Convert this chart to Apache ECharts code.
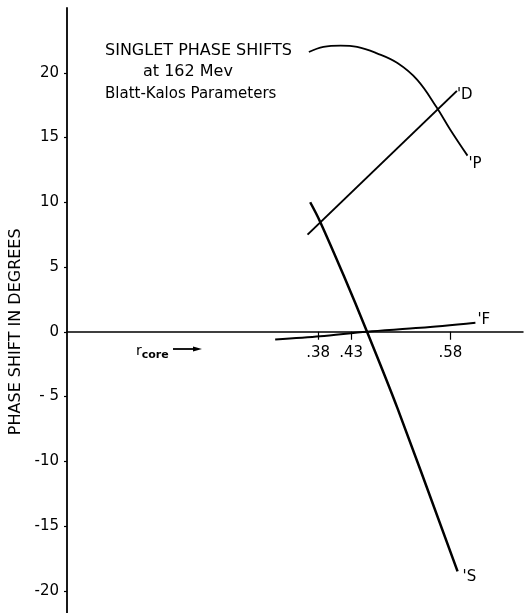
<!DOCTYPE html>
<html>
<head>
<meta charset="utf-8">
<script src="https://cdn.jsdelivr.net/npm/echarts@6/dist/echarts.min.js"></script>
<style>html,body{margin:0;padding:0;background:#fff;}#c{width:524px;height:613px;}</style>
</head>
<body>
<div id="c"></div>
<script>
// Data
var xD = [0.364, 0.590];
var yD = [7.5, 18.6];
var xP = [0.366, 0.388, 0.414, 0.439, 0.469, 0.500, 0.530, 0.559, 0.580, 0.606];
var yP = [21.6, 22.0, 22.1, 22.0, 21.5, 20.75, 19.45, 17.35, 15.6, 13.6];
var xS = [0.368, 0.383, 0.419, 0.454, 0.500, 0.591];
var yS = [10.0, 8.5, 4.3, 0.0, -5.9, -18.5];
var xF = [0.315, 0.383, 0.454, 0.535, 0.618];
var yF = [-0.6, -0.35, 0.0, 0.3, 0.7];
var xTicks = [0.38, 0.43, 0.58];
var yTicks = [-20, -15, -10, -5, 0, 5, 10, 15, 20];
var seriesNames = ["'D", "'P", "'S", "'F"];

function pairs(xs, ys) { return xs.map(function (x, i) { return [x, ys[i]]; }); }
var FONT = 'DejaVu Sans';
var GRID_TOP = 8, GRID_H = 647.5, Y_MIN = -25, Y_MAX = 25;
// pixel distance from grid bottom up to the zero line (layout only)
var ZERO_OFFSET = GRID_H * (0 - Y_MIN) / (Y_MAX - Y_MIN);
var chart = echarts.init(document.getElementById('c'));
function lineSeries(name, data, width, smooth, offset) {
  return {
    name: name, type: 'line', data: data, smooth: smooth,
    showSymbol: false, symbol: 'none', silent: true,
    lineStyle: { color: '#000', width: width },
    endLabel: { show: true, formatter: name, color: '#000', fontFamily: FONT, fontSize: 15, distance: 2, offset: offset },
    z: 3
  };
}
chart.setOption({
  backgroundColor: '#fff',
  animation: false,
  grid: { left: 67, top: GRID_TOP, width: 456, height: GRID_H, containLabel: false, outerBoundsMode: 'none' },
  xAxis: {
    type: 'value', min: 0, max: 0.69, position: 'bottom', offset: -ZERO_OFFSET,
    axisLine: { onZero: false, lineStyle: { color: '#000', width: 1.5 } },
    splitLine: { show: false },
    axisTick: { show: true, customValues: xTicks, length: 8, lineStyle: { color: '#000', width: 1.2 } },
    axisLabel: { customValues: xTicks, margin: 14, color: '#000', fontFamily: FONT, fontSize: 15,
      formatter: function (v) { return '.' + Math.round(v * 100); } }
  },
  yAxis: {
    type: 'value', min: Y_MIN, max: Y_MAX,
    name: 'PHASE SHIFT IN DEGREES', nameLocation: 'middle', nameGap: 43,
    nameTextStyle: { color: '#000', fontFamily: FONT, fontSize: 16 },
    axisLine: { show: true, lineStyle: { color: '#000', width: 1.8 } },
    splitLine: { show: false },
    axisTick: { show: true, customValues: yTicks, length: 3, lineStyle: { color: '#000', width: 1.2 } },
    axisLabel: { customValues: yTicks, margin: 8, color: '#000', fontFamily: FONT, fontSize: 15,
      formatter: function (v) { return v === -5 ? '- 5' : String(v); } }
  },
  graphic: [
    { type: 'text', left: 105, top: 43, style: { text: 'SINGLET PHASE SHIFTS', font: '16px "DejaVu Sans"', fill: '#000' } },
    { type: 'text', left: 143, top: 64, style: { text: 'at 162 Mev', font: '16px "DejaVu Sans"', fill: '#000' } },
    { type: 'text', left: 105, top: 87, style: { text: 'Blatt-Kalos Parameters', font: '15px "DejaVu Sans"', fill: '#000' } },
    { type: 'text', left: 136, top: 344, style: {
        text: '{r|r}{s|core}', fill: '#000',
        rich: { r: { font: '14px "DejaVu Sans"', fill: '#000' }, s: { font: 'bold 11px "DejaVu Sans"', fill: '#000', padding: [8, 0, 0, 0] } } } },
    { type: 'line', shape: { x1: 173, y1: 349, x2: 195, y2: 349 }, style: { stroke: '#000', lineWidth: 1.8 } },
    { type: 'polygon', shape: { points: [[193, 346.5], [202, 349], [193, 351.5]] }, style: { fill: '#000' } }
  ],
  series: [
    lineSeries(seriesNames[0], pairs(xD, yD), 2, false, [-2, 4]),
    lineSeries(seriesNames[1], pairs(xP, yP), 1.8, 0.4, [-1, 8]),
    lineSeries(seriesNames[2], pairs(xS, yS), 2.5, 0.35, [3, 6]),
    lineSeries(seriesNames[3], pairs(xF, yF), 2, 0.3, [0, -3])
  ]
});
</script>
</body>
</html>
